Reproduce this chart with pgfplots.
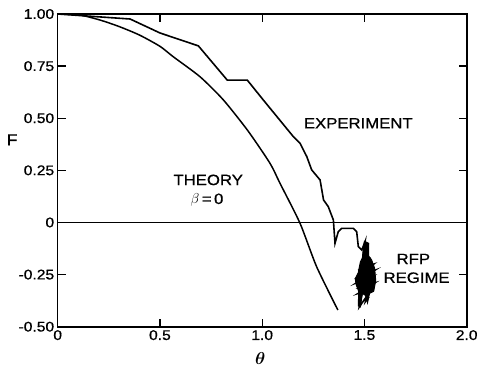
\documentclass[border=0pt]{standalone}
\usepackage{fontspec}
\setmainfont{Liberation Sans}[FakeStretch=1.12,FakeBold=0.8]
\usepackage{amsmath}
\usepackage{pgfplots}
\pgfplotsset{compat=1.18}

\begin{document}
\begin{tikzpicture}
\useasboundingbox (-57.7bp,-40.3bp) rectangle (423.3bp,326.7bp);
\begin{axis}[
  at={(0,0)}, anchor=south west,
  scale only axis,
  width=409bp, height=312.7bp,
  xmin=0, xmax=2, ymin=-0.5, ymax=1,
  xtick={0,0.5,1,1.5,2},
  xticklabels={0,0.5,1.0,1.5,2.0},
  ytick={-0.5,-0.25,0,0.25,0.5,0.75,1},
  yticklabels={-0.50,-0.25,0,0.25,0.50,0.75,1.00},
  tick align=inside,
  major tick length=8bp,
  tick style={line width=1.3bp, black},
  axis line style={line width=1.6bp},
  tick label style={font=\fontsize{14}{16}\selectfont},
  clip=false,
]
% zero line
\addplot[black, line width=1.4bp] coordinates {(0,0) (2,0)};

% theory, beta = 0
\addplot[black, line width=1.5bp, smooth, tension=0.4] coordinates {
  (0,1.0) (0.109,0.995) (0.207,0.971) (0.30,0.94) (0.40,0.899)
  (0.50,0.845) (0.565,0.795) (0.696,0.699) (0.81,0.588) (0.93,0.44)
  (1.038,0.284) (1.087,0.188) (1.185,-0.004) (1.266,-0.212) (1.37,-0.42)
};

% experiment
\addplot[black, line width=1.6bp] coordinates {
  (0,1.0) (0.354,0.976) (0.50,0.909) (0.688,0.847) (0.829,0.683)
  (0.927,0.683) (1.005,0.588) (1.152,0.412) (1.185,0.38) (1.218,0.316)
  (1.242,0.252) (1.283,0.204) (1.30,0.108) (1.323,0.076) (1.348,0.012)
  (1.356,-0.10) (1.372,-0.044) (1.389,-0.028) (1.445,-0.028) (1.462,-0.044)
  (1.470,-0.116) (1.487,-0.132) (1.503,-0.092)
  (1.495,-0.15) (1.515,-0.12) (1.50,-0.19) (1.53,-0.17) (1.48,-0.22)
  (1.545,-0.20) (1.47,-0.26) (1.55,-0.23) (1.46,-0.29) (1.54,-0.26)
  (1.475,-0.31) (1.55,-0.29) (1.47,-0.34) (1.535,-0.32) (1.475,-0.405)
  (1.49,-0.33) (1.52,-0.36) (1.505,-0.38) (1.525,-0.30) (1.49,-0.27)
};

% dense RFP-regime scribble
\addplot[black, fill=black, line width=1bp] coordinates {
  (1.50,-0.09) (1.52,-0.10) (1.52,-0.16) (1.535,-0.18) (1.55,-0.22)
  (1.555,-0.28) (1.545,-0.33) (1.525,-0.34) (1.515,-0.385) (1.505,-0.35)
  (1.49,-0.34) (1.48,-0.405) (1.47,-0.40) (1.472,-0.33) (1.46,-0.30)
  (1.455,-0.27) (1.47,-0.24) (1.48,-0.19) (1.49,-0.17) (1.495,-0.12)
} -- cycle;

\node[font=\fontsize{15}{17}\selectfont] at (axis cs:0.736,0.204) {THEORY};
\node[font=\fontsize{15}{17}\selectfont] at (axis cs:0.73,0.107) {$\beta$\,=\,0};
\node[font=\fontsize{15}{17}\selectfont] at (axis cs:1.47,0.476) {EXPERIMENT};
\node[font=\fontsize{15}{17}\selectfont] at (axis cs:1.739,-0.175) {RFP};
\node[font=\fontsize{15}{17}\selectfont] at (axis cs:1.755,-0.265) {REGIME};
\node[font=\fontsize{16}{18}\selectfont] at (axis cs:-0.223,0.396) {F};
\node[font=\fontsize{16}{18}\selectfont] at (axis cs:0.99,-0.652) {$\boldsymbol{\theta}$};
\end{axis}
\end{tikzpicture}
\end{document}
